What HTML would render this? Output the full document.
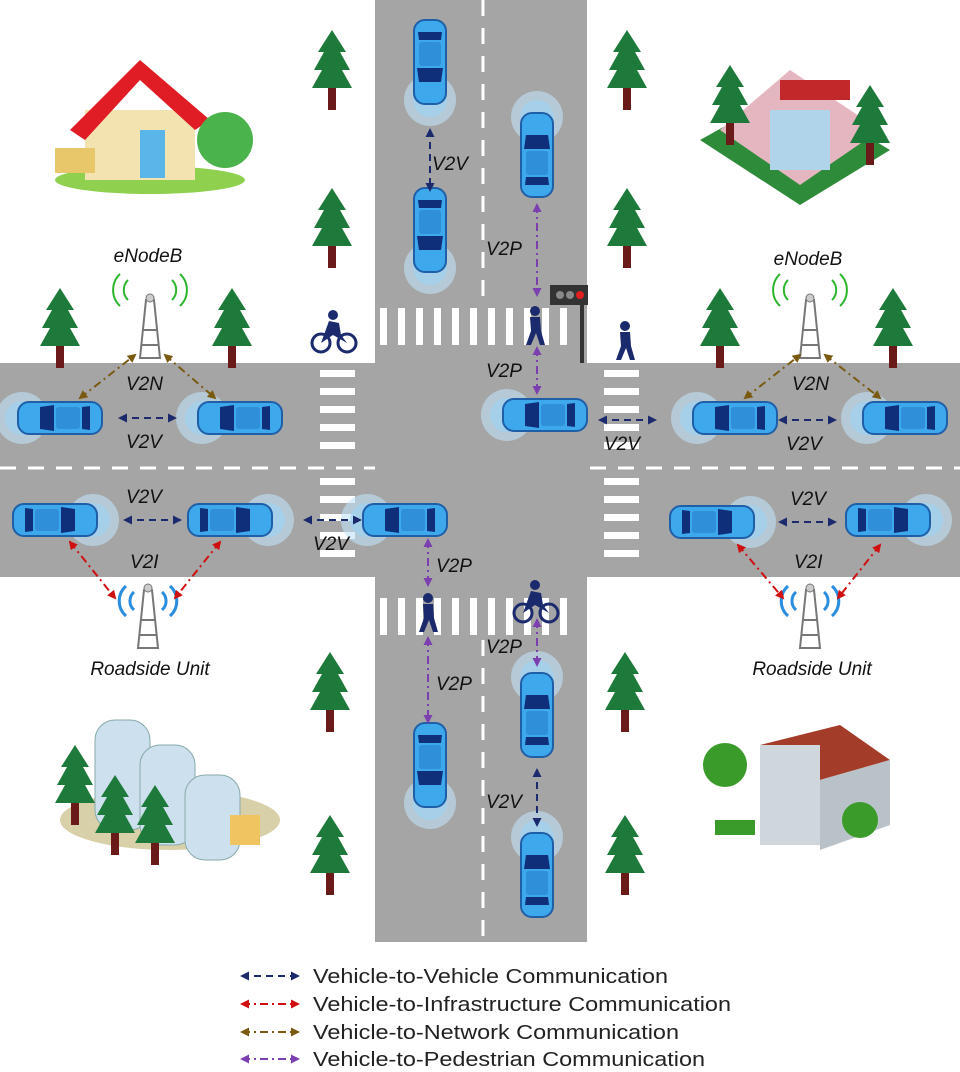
<!DOCTYPE html>
<html><head><meta charset="utf-8"><style>
html,body{margin:0;padding:0;background:#fff}
svg{display:block}
text{font-family:"Liberation Sans",sans-serif}
.lbl{font-style:italic;font-size:19px;fill:#111}
.leg{font-size:20px;fill:#222}
</style></head><body>
<svg width="960" height="1072" viewBox="0 0 960 1072">
<defs>
<marker id="mN" markerUnits="userSpaceOnUse" markerWidth="9" markerHeight="9" refX="7" refY="4.5" orient="auto-start-reverse"><path d="M0,0 L9,4.5 L0,9 z" fill="#1a2a6c"/></marker>
<marker id="mR" markerUnits="userSpaceOnUse" markerWidth="9" markerHeight="9" refX="7" refY="4.5" orient="auto-start-reverse"><path d="M0,0 L9,4.5 L0,9 z" fill="#d01010"/></marker>
<marker id="mB" markerUnits="userSpaceOnUse" markerWidth="9" markerHeight="9" refX="7" refY="4.5" orient="auto-start-reverse"><path d="M0,0 L9,4.5 L0,9 z" fill="#7a5a10"/></marker>
<marker id="mP" markerUnits="userSpaceOnUse" markerWidth="9" markerHeight="9" refX="7" refY="4.5" orient="auto-start-reverse"><path d="M0,0 L9,4.5 L0,9 z" fill="#7b3fb0"/></marker>
<g id="car">
<circle cx="38" cy="0" r="26" fill="#bfe3f7" opacity="0.6"/>
<circle cx="38" cy="0" r="17" fill="#9fd3f2" opacity="0.7"/>
<rect x="-42" y="-16" width="84" height="32" rx="11" fill="#3ea8ec" stroke="#1e5fa8" stroke-width="2"/>
<path d="M6,-13 L20,-11 L20,11 L6,13 z" fill="#0f2f7a"/>
<path d="M-30,-12 L-22,-11 L-22,11 L-30,12 z" fill="#0f2f7a"/>
<rect x="-20" y="-11" width="24" height="22" rx="3" fill="#2f8fd8"/>
</g>
<g id="tree">
<polygon points="0,-30 -14,-8 -8,-8 -18,10 -10,10 -20,28 20,28 10,10 18,10 8,-8 14,-8" fill="#1e7a3a"/>
<rect x="-4" y="28" width="8" height="22" fill="#6b1a1a"/>
</g>
<g id="ped">
<circle cx="0" cy="-14" r="5" fill="#1a2a6c"/>
<path d="M-5,-8 L5,-8 L6,6 L10,20 L5,20 L1,8 L-4,20 L-9,20 L-4,6 z" fill="#1a2a6c"/>
</g>
<g id="bike">
<circle cx="-12" cy="8" r="9" fill="none" stroke="#1a2a6c" stroke-width="3"/>
<circle cx="14" cy="8" r="9" fill="none" stroke="#1a2a6c" stroke-width="3"/>
<circle cx="0" cy="-20" r="5" fill="#1a2a6c"/>
<path d="M-4,-14 L6,-12 L8,0 L14,8 L0,0 L-12,8 z" fill="#1a2a6c"/>
</g>
<g id="tower">
<path d="M-4,-40 L4,-40 L10,18 L-10,18 z" fill="none" stroke="#777" stroke-width="2"/>
<line x1="-7" y1="-10" x2="7" y2="-10" stroke="#777" stroke-width="2"/>
<line x1="-8" y1="5" x2="8" y2="5" stroke="#777" stroke-width="2"/>
<circle cx="0" cy="-42" r="4" fill="#ccc" stroke="#777"/>
</g>
</defs>

<rect x="375" y="0" width="212" height="942" fill="#a5a5a5"/>
<rect x="0" y="363" width="960" height="214" fill="#a5a5a5"/>
<line x1="483" y1="0" x2="483" y2="300" stroke="#fff" stroke-width="3" stroke-dasharray="16,12"/>
<line x1="483" y1="640" x2="483" y2="942" stroke="#fff" stroke-width="3" stroke-dasharray="16,12"/>
<line x1="0" y1="468" x2="375" y2="468" stroke="#fff" stroke-width="3" stroke-dasharray="16,12"/>
<line x1="590" y1="468" x2="960" y2="468" stroke="#fff" stroke-width="3" stroke-dasharray="16,12"/>

<g fill="#fff">
<path d="M380,308h7v37h-7zM398,308h7v37h-7zM416,308h7v37h-7zM434,308h7v37h-7zM452,308h7v37h-7zM470,308h7v37h-7zM488,308h7v37h-7zM506,308h7v37h-7zM524,308h7v37h-7zM542,308h7v37h-7zM560,308h7v37h-7z"/>
<path d="M380,598h7v37h-7zM398,598h7v37h-7zM416,598h7v37h-7zM434,598h7v37h-7zM452,598h7v37h-7zM470,598h7v37h-7zM488,598h7v37h-7zM506,598h7v37h-7zM524,598h7v37h-7zM542,598h7v37h-7zM560,598h7v37h-7z"/>
<path d="M320,370h35v7h-35zM320,388h35v7h-35zM320,406h35v7h-35zM320,424h35v7h-35zM320,442h35v7h-35zM320,478h35v7h-35zM320,496h35v7h-35zM320,514h35v7h-35zM320,532h35v7h-35zM320,550h35v7h-35z"/>
<path d="M604,370h35v7h-35zM604,388h35v7h-35zM604,406h35v7h-35zM604,424h35v7h-35zM604,442h35v7h-35zM604,478h35v7h-35zM604,496h35v7h-35zM604,514h35v7h-35zM604,532h35v7h-35zM604,550h35v7h-35z"/>
</g>

<use href="#tree" x="332" y="60"/>
<use href="#tree" x="332" y="218"/>
<use href="#tree" x="627" y="60"/>
<use href="#tree" x="627" y="218"/>
<use href="#tree" x="60" y="318"/>
<use href="#tree" x="232" y="318"/>
<use href="#tree" x="720" y="318"/>
<use href="#tree" x="893" y="318"/>
<use href="#tree" x="330" y="682"/>
<use href="#tree" x="330" y="845"/>
<use href="#tree" x="625" y="682"/>
<use href="#tree" x="625" y="845"/>

<g>
<ellipse cx="150" cy="180" rx="95" ry="14" fill="#8fd14f"/>
<rect x="85" y="110" width="110" height="70" fill="#f3e3b0"/>
<polygon points="70,130 140,60 210,120 195,130 140,80 85,140" fill="#e01c24"/>
<rect x="140" y="130" width="25" height="48" fill="#5ab5e8"/>
<circle cx="225" cy="140" r="28" fill="#4bb34b"/>
<rect x="55" y="148" width="40" height="25" fill="#e8c76a"/>
</g>
<g>
<polygon points="700,140 790,90 890,150 800,205" fill="#2e8b3a"/>
<polygon points="720,130 790,70 880,130 800,185" fill="#e4b6c0"/>
<rect x="780" y="80" width="70" height="20" fill="#c0282a"/>
<rect x="770" y="110" width="60" height="60" fill="#b0d4ea"/>
<use href="#tree" x="730" y="95"/>
<use href="#tree" x="870" y="115"/>
</g>
<g>
<ellipse cx="170" cy="820" rx="110" ry="30" fill="#d8d0a8"/>
<rect x="95" y="720" width="55" height="110" rx="20" fill="#cde0ee" stroke="#8aa" />
<rect x="140" y="745" width="55" height="100" rx="20" fill="#cde0ee" stroke="#8aa"/>
<rect x="185" y="775" width="55" height="85" rx="20" fill="#cde0ee" stroke="#8aa"/>
<rect x="230" y="815" width="30" height="30" fill="#f1c462"/>
<use href="#tree" x="75" y="775"/>
<use href="#tree" x="115" y="805"/>
<use href="#tree" x="155" y="815"/>
</g>
<g>
<polygon points="760,745 840,725 890,760 820,780" fill="#a33c28"/>
<rect x="760" y="745" width="60" height="100" fill="#cfd6dc"/>
<polygon points="820,780 890,760 890,825 820,850" fill="#b9c2c8"/>
<circle cx="725" cy="765" r="22" fill="#3a9a2a"/>
<circle cx="860" cy="820" r="18" fill="#3a9a2a"/>
<rect x="715" y="820" width="40" height="15" fill="#3a9a2a"/>
</g>

<g>
<use href="#tower" x="150" y="340"/>
<path d="M128,280 a14,14 0 0,0 0,20 M120,274 a22,22 0 0,0 0,32 M172,280 a14,14 0 0,1 0,20 M180,274 a22,22 0 0,1 0,32" fill="none" stroke="#2db52d" stroke-width="2"/>
<text x="148" y="262" class="lbl" text-anchor="middle">eNodeB</text>
</g>
<g>
<use href="#tower" x="810" y="340"/>
<path d="M788,280 a14,14 0 0,0 0,20 M780,274 a22,22 0 0,0 0,32 M832,280 a14,14 0 0,1 0,20 M840,274 a22,22 0 0,1 0,32" fill="none" stroke="#2db52d" stroke-width="2"/>
<text x="808" y="265" class="lbl" text-anchor="middle">eNodeB</text>
</g>
<g>
<use href="#tower" x="148" y="630"/>
<path d="M134,592 a12,12 0 0,0 0,18 M126,586 a20,20 0 0,0 0,30 M162,592 a12,12 0 0,1 0,18 M170,586 a20,20 0 0,1 0,30" fill="none" stroke="#2a8de0" stroke-width="3"/>
<text x="150" y="675" class="lbl" text-anchor="middle">Roadside Unit</text>
</g>
<g>
<use href="#tower" x="810" y="630"/>
<path d="M796,592 a12,12 0 0,0 0,18 M788,586 a20,20 0 0,0 0,30 M824,592 a12,12 0 0,1 0,18 M832,586 a20,20 0 0,1 0,30" fill="none" stroke="#2a8de0" stroke-width="3"/>
<text x="812" y="675" class="lbl" text-anchor="middle">Roadside Unit</text>
</g>

<g>
<rect x="550" y="285" width="38" height="20" fill="#333"/>
<rect x="580" y="305" width="4" height="58" fill="#333"/>
<circle cx="560" cy="295" r="4" fill="#888"/><circle cx="570" cy="295" r="4" fill="#888"/><circle cx="580" cy="295" r="4" fill="#e02020"/>
</g>

<use href="#bike" x="333" y="335"/>
<use href="#ped" x="535" y="325"/>
<use href="#ped" x="625" y="340"/>
<use href="#ped" x="428" y="612"/>
<use href="#bike" x="535" y="605"/>

<use href="#car" transform="translate(430,62) rotate(90)"/>
<use href="#car" transform="translate(430,230) rotate(90)"/>
<use href="#car" transform="translate(537,155) rotate(-90)"/>
<use href="#car" transform="translate(430,765) rotate(90)"/>
<use href="#car" transform="translate(537,715) rotate(-90)"/>
<use href="#car" transform="translate(537,875) rotate(-90)"/>
<use href="#car" transform="translate(60,418) rotate(180)"/>
<use href="#car" transform="translate(240,418) rotate(180)"/>
<use href="#car" transform="translate(545,415) rotate(180)"/>
<use href="#car" transform="translate(735,418) rotate(180)"/>
<use href="#car" transform="translate(905,418) rotate(180)"/>
<use href="#car" transform="translate(55,520)"/>
<use href="#car" transform="translate(230,520)"/>
<use href="#car" transform="translate(405,520) rotate(180)"/>
<use href="#car" transform="translate(712,522)"/>
<use href="#car" transform="translate(888,520)"/>

<g fill="none" stroke-width="2">
<g stroke="#1a2a6c" stroke-dasharray="7,5">
<line x1="430" y1="130" x2="430" y2="190" marker-start="url(#mN)" marker-end="url(#mN)"/>
<line x1="120" y1="418" x2="175" y2="418" marker-start="url(#mN)" marker-end="url(#mN)"/>
<line x1="125" y1="520" x2="180" y2="520" marker-start="url(#mN)" marker-end="url(#mN)"/>
<line x1="305" y1="520" x2="360" y2="520" marker-start="url(#mN)" marker-end="url(#mN)"/>
<line x1="600" y1="420" x2="655" y2="420" marker-start="url(#mN)" marker-end="url(#mN)"/>
<line x1="780" y1="420" x2="835" y2="420" marker-start="url(#mN)" marker-end="url(#mN)"/>
<line x1="780" y1="522" x2="835" y2="522" marker-start="url(#mN)" marker-end="url(#mN)"/>
<line x1="537" y1="770" x2="537" y2="825" marker-start="url(#mN)" marker-end="url(#mN)"/>
</g>
<g stroke="#d01010" stroke-dasharray="8,4,2,4">
<line x1="70" y1="542" x2="115" y2="598" marker-start="url(#mR)" marker-end="url(#mR)"/>
<line x1="220" y1="542" x2="175" y2="598" marker-start="url(#mR)" marker-end="url(#mR)"/>
<line x1="738" y1="545" x2="783" y2="598" marker-start="url(#mR)" marker-end="url(#mR)"/>
<line x1="880" y1="545" x2="838" y2="598" marker-start="url(#mR)" marker-end="url(#mR)"/>
</g>
<g stroke="#7a5a10" stroke-dasharray="8,4,2,4">
<line x1="80" y1="398" x2="135" y2="355" marker-start="url(#mB)" marker-end="url(#mB)"/>
<line x1="165" y1="355" x2="215" y2="398" marker-start="url(#mB)" marker-end="url(#mB)"/>
<line x1="745" y1="398" x2="800" y2="355" marker-start="url(#mB)" marker-end="url(#mB)"/>
<line x1="825" y1="355" x2="880" y2="398" marker-start="url(#mB)" marker-end="url(#mB)"/>
</g>
<g stroke="#7b3fb0" stroke-dasharray="8,4,2,4">
<line x1="537" y1="205" x2="537" y2="295" marker-start="url(#mP)" marker-end="url(#mP)"/>
<line x1="537" y1="348" x2="537" y2="393" marker-start="url(#mP)" marker-end="url(#mP)"/>
<line x1="428" y1="540" x2="428" y2="585" marker-start="url(#mP)" marker-end="url(#mP)"/>
<line x1="428" y1="638" x2="428" y2="722" marker-start="url(#mP)" marker-end="url(#mP)"/>
<line x1="537" y1="620" x2="537" y2="665" marker-start="url(#mP)" marker-end="url(#mP)"/>
</g>
</g>

<g>
<text x="432" y="170" class="lbl">V2V</text>
<text x="486" y="255" class="lbl">V2P</text>
<text x="486" y="377" class="lbl">V2P</text>
<text x="126" y="390" class="lbl">V2N</text>
<text x="126" y="448" class="lbl">V2V</text>
<text x="126" y="503" class="lbl">V2V</text>
<text x="130" y="568" class="lbl">V2I</text>
<text x="313" y="550" class="lbl">V2V</text>
<text x="604" y="450" class="lbl">V2V</text>
<text x="792" y="390" class="lbl">V2N</text>
<text x="786" y="450" class="lbl">V2V</text>
<text x="790" y="505" class="lbl">V2V</text>
<text x="794" y="568" class="lbl">V2I</text>
<text x="436" y="572" class="lbl">V2P</text>
<text x="486" y="653" class="lbl">V2P</text>
<text x="436" y="690" class="lbl">V2P</text>
<text x="486" y="808" class="lbl">V2V</text>
</g>

<g>
<g>
<line x1="242" y1="976" x2="298" y2="976" stroke="#1a2a6c" stroke-width="2" stroke-dasharray="7,5" marker-start="url(#mN)" marker-end="url(#mN)"/>
<text x="313" y="983" class="leg" textLength="355" lengthAdjust="spacingAndGlyphs">Vehicle-to-Vehicle Communication</text></g>
<g>
<line x1="242" y1="1004" x2="298" y2="1004" stroke="#d01010" stroke-width="2" stroke-dasharray="8,4,2,4" marker-start="url(#mR)" marker-end="url(#mR)"/>
<text x="313" y="1011" class="leg" textLength="418" lengthAdjust="spacingAndGlyphs">Vehicle-to-Infrastructure Communication</text></g>
<g>
<line x1="242" y1="1032" x2="298" y2="1032" stroke="#7a5a10" stroke-width="2" stroke-dasharray="8,4,2,4" marker-start="url(#mB)" marker-end="url(#mB)"/>
<text x="313" y="1039" class="leg" textLength="366" lengthAdjust="spacingAndGlyphs">Vehicle-to-Network Communication</text></g>
<g>
<line x1="242" y1="1059" x2="298" y2="1059" stroke="#7b3fb0" stroke-width="2" stroke-dasharray="8,4,2,4" marker-start="url(#mP)" marker-end="url(#mP)"/>
<text x="313" y="1066" class="leg" textLength="392" lengthAdjust="spacingAndGlyphs">Vehicle-to-Pedestrian Communication</text></g>
</g>
</svg>
</body></html>
